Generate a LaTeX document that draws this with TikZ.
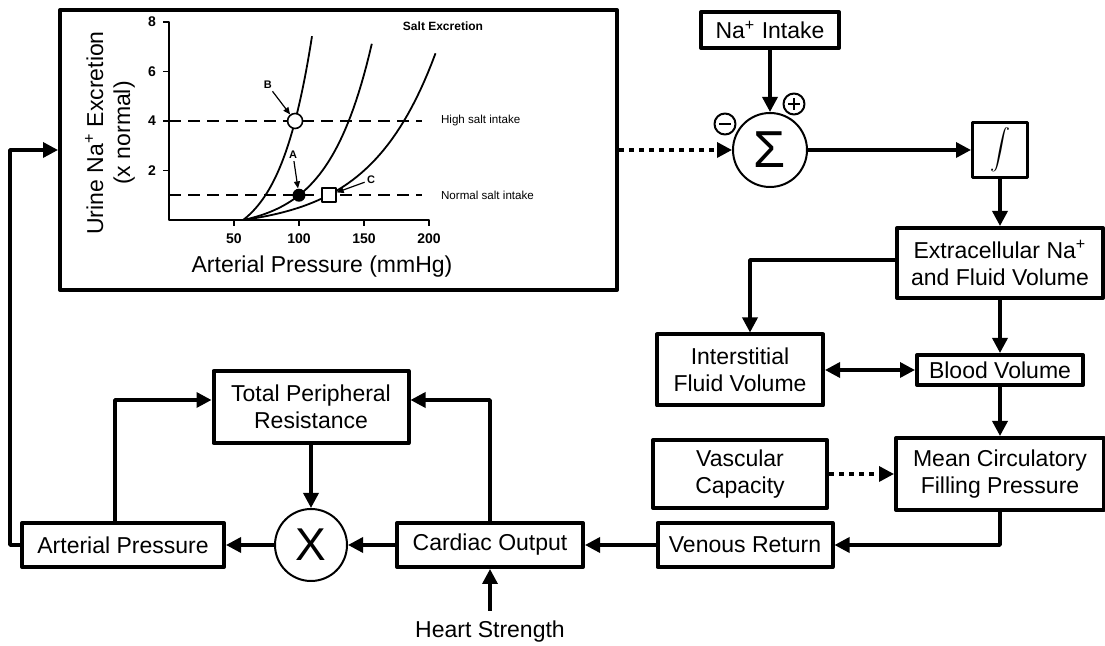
\documentclass[tikz,border=0pt]{standalone}
\usepackage{fontspec}
\setmainfont{Liberation Sans}
\usetikzlibrary{arrows.meta}
\begin{document}
\begin{tikzpicture}[x=0.5pt, y=-0.5pt, line join=round, font=\fontsize{11.5}{13.5}\selectfont,
  box/.style={draw, line width=2pt, align=center, inner sep=0pt},
  ring/.style={draw, circle, line width=1pt, inner sep=0pt},
  sign/.style={ring, minimum size=10.5pt, fill=white},
  flow/.style={line width=1.7pt, -{Triangle[length=7.5pt,width=7.5pt]}},
  bothflow/.style={flow, {Triangle[length=7.5pt,width=7.5pt]}-{Triangle[length=7.5pt,width=7.5pt]}},
  dotflow/.style={flow, dash pattern=on 2.5pt off 2.5pt},
  axis/.style={line width=0.9pt},
  level/.style={line width=0.9pt, dash pattern=on 6pt off 3.5pt},
  ticklabel/.style={font=\bfseries\fontsize{7}{8}\selectfont},
  pointname/.style={font=\bfseries\fontsize{5.5}{6}\selectfont, inner sep=1pt},
  note/.style={font=\fontsize{5.8}{7}\selectfont},
  pointer/.style={line width=0.6pt, -{Triangle[length=3.5pt,width=3pt]}}]
\useasboundingbox (0,0) rectangle (1105,646);

\node[draw, line width=2pt, minimum width=278.5pt, minimum height=140pt] (graph) at (338.5,150) {};
\node[rotate=90, align=center] (ylab) at (110,133) {Urine Na\textsuperscript{+} Excretion\\(x normal)};
\node (xlab) at (322,267) {Arterial Pressure (mmHg)};
\node[font=\bfseries\fontsize{6}{7}\selectfont] (title) at (443,26) {Salt Excretion};
\node[note, right] (high) at (434,121) {High salt intake};
\node[note, right] (normal) at (434,195) {Normal salt intake};

\begin{scope}[shift={(169,220)}, x=0.65pt, y=12.375pt]
\draw[axis] (-4.6,8) -- (0,8) -- (0,0) -- (200,0) -- (200,-0.25);
\foreach \v in {2,4,6} \draw[axis] (-4.6,\v) -- (0,\v);
\foreach \v in {2,4,6,8} \node[ticklabel, left] at (-4.6,\v) {\v};
\foreach \p in {50,100,150} \draw[axis] (\p,0) -- (\p,-0.25);
\foreach \p in {50,100,150,200} \node[ticklabel, below] at (\p,-0.25) {\p};
\draw[level] (0,4) -- (195,4);
\draw[level] (0,1) -- (195,1);
\draw[axis] plot[domain=57:110, samples=50] (\x, {1.013*(exp((\x-57)/25)-1)});
\draw[axis] plot[domain=57:156, samples=50] (\x, {0.373*(exp((\x-57)/33)-1)});
\draw[axis] plot[domain=57:205, samples=50] (\x, {0.368*(exp((\x-57)/50)-1)});
\node[ring, line width=0.8pt, fill=white, minimum size=7.5pt] (ptB) at (97,4) {};
\node[circle, fill, inner sep=0pt, minimum size=6.5pt] (ptA) at (100,1) {};
\node[draw, line width=0.8pt, fill=white, inner sep=0pt, minimum size=7pt] (ptC) at (123,1) {};
\node[pointname] (lblB) at (76,5.45) {B};
\node[pointname] (lblA) at (95.4,2.63) {A};
\node[pointname] (lblC) at (155.4,1.62) {C};
\draw[pointer] (lblB) -- (ptB);
\draw[pointer] (lblA) -- (ptA);
\draw[pointer] (lblC) -- (ptC);
\end{scope}

\node[box, minimum width=69pt, minimum height=18pt] (intake) at (770,30) {Na\textsuperscript{+} Intake};
\node[ring, minimum size=37pt, font=\fontsize{26}{26}\selectfont] (sum) at (770,150) {Σ};
\node[sign] (minus) at (725,124) {};
\node[sign] (plus) at (794,104) {};
\draw[line width=1.2pt] ([xshift=-3pt]minus.center) -- ([xshift=3pt]minus.center);
\draw[line width=1.2pt] ([xshift=-3pt]plus.center) -- ([xshift=3pt]plus.center)
  ([yshift=-3pt]plus.center) -- ([yshift=3pt]plus.center);
\node[box, line width=1.5pt, minimum size=27.5pt] (integ) at (1000,150) {$\displaystyle\int$};
\node[box, minimum width=103pt, minimum height=35pt] (ecf) at (1000,263) {Extracellular Na\textsuperscript{+}\\and Fluid Volume};
\node[box, minimum width=83pt, minimum height=35.5pt] (isf) at (740,370) {Interstitial\\Fluid Volume};
\node[box, minimum width=83pt, minimum height=15pt] (blood) at (1000,370) {Blood Volume};
\node[box, minimum width=104pt, minimum height=36pt] (mcfp) at (1000,474) {Mean Circulatory\\Filling Pressure};
\node[box, minimum width=87pt, minimum height=34pt] (vasc) at (740,474) {Vascular\\Capacity};
\node[box, minimum width=87.5pt, minimum height=22pt] (venous) at (745,545) {Venous Return};
\node[box, minimum width=93pt, minimum height=22pt] (cardiac) at (490,545) {Cardiac Output};
\node[ring, minimum size=36pt, font=\fontsize{23}{23}\selectfont] (mult) at (311,545) {X};
\node[box, minimum width=101pt, minimum height=22pt] (arterial) at (123,545) {Arterial Pressure};
\node[box, minimum width=97.5pt, minimum height=36pt] (tpr) at (311,407) {Total Peripheral\\Resistance};
\node[inner sep=0pt] (heart) at (490,632) {Heart Strength};

\draw[dotflow] (graph.east) -- (sum);
\draw[flow] (intake) -- (sum);
\draw[flow] (sum) -- (integ);
\draw[flow] (integ) -- (ecf);
\draw[flow] ([yshift=1.5pt]ecf.west) -| ([xshift=5pt]isf.north);
\draw[bothflow] (isf) -- (blood);
\draw[flow] (ecf) -- (blood);
\draw[flow] (blood) -- (mcfp);
\draw[dotflow] (vasc) -- (mcfp);
\draw[flow] (mcfp.south) |- (venous.east);
\draw[flow] (venous) -- (cardiac);
\draw[flow] (cardiac) -- (mult);
\draw[flow] (mult) -- (arterial);
\draw[flow] (tpr) -- (mult);
\draw[flow, shorten <=5pt] (heart) -- (cardiac);
\draw[flow] ([xshift=-4pt]arterial.north) |- ([yshift=3.5pt]tpr.west);
\draw[flow] (cardiac.north) |- ([yshift=3.5pt]tpr.east);
\draw[flow] (arterial.west) -- ++(-10,0) |- (graph.west);
\end{tikzpicture}
\end{document}
